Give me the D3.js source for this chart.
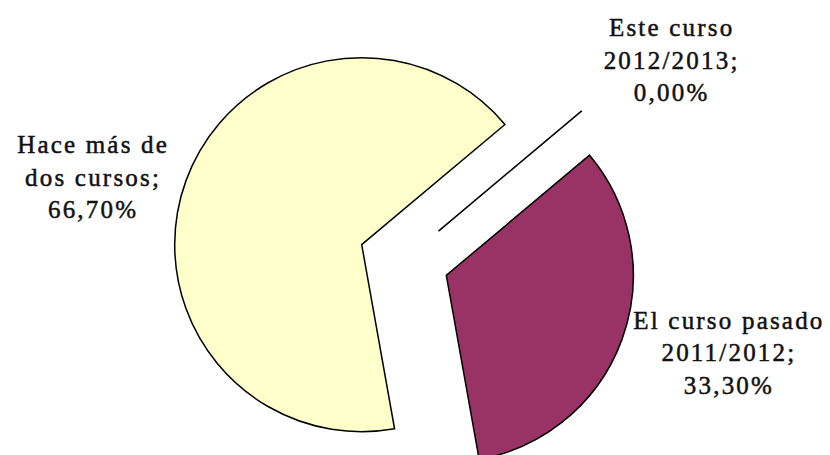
<!DOCTYPE html>
<html>
<head>
<meta charset="utf-8">
<script src="https://cdn.jsdelivr.net/npm/d3@7"></script>
<style>
  body { margin: 0; background: #fff; }
  .chart text { font-family: "Liberation Serif", "Times New Roman", serif; }
</style>
</head>
<body>
<div class="chart"></div>
<script>

// data
const categories = ["Este curso\n2012/2013", "El curso pasado\n2011/2012", "Hace más de\ndos cursos"];
const shares = [0.0, 0.333, 0.667];
const colors = ["#9999FF", "#993366", "#FFFFCC"];

const w = 830, h = 455;
const cx = 404, cy = 260, radius = 187, explode = 45, labelRadius = 335;

// small nudges so labels sit where Excel put them
const labelNudge = {
    "Este curso\n2012/2013": [11, 16],
    "El curso pasado\n2011/2012": [10, -21],
    "Hace más de\ndos cursos": [4, 32]
};

const es = d3.formatLocale({decimal: ",", thousands: ".", grouping: [3], currency: ["", " €"]});
const pct = es.format(".2%");

const data = categories.map((c, i) => ({name: c, value: shares[i], color: colors[i]}));

const svg = d3.select(".chart")
    .append("svg")
    .attr("width", w)
    .attr("height", h);

const g = svg.append("g")
    .attr("transform", `translate(${cx},${cy})`);

const pie = d3.pie()
    .sort(null)
    .value(d => d.value)
    .startAngle(50 * Math.PI / 180)
    .endAngle(410 * Math.PI / 180);

const arcs = pie(data);

const arc = d3.arc().innerRadius(0).outerRadius(radius);
const offsetArc = d3.arc().innerRadius(explode).outerRadius(explode);
const labelArc = d3.arc().innerRadius(labelRadius).outerRadius(labelRadius);

g.selectAll(".slice")
    .data(arcs)
    .enter()
    .append("path")
    .attr("class", "slice")
    .attr("transform", d => `translate(${offsetArc.centroid(d)})`)
    .attr("d", arc)
    .attr("fill", d => d.data.color)
    .attr("stroke", "black")
    .attr("stroke-width", 1.5)
    .attr("stroke-linejoin", "miter");

const lineH = 32.5;

const labels = g.selectAll(".label")
    .data(arcs)
    .enter()
    .append("text")
    .attr("class", "label")
    .attr("text-anchor", "middle")
    .attr("font-size", 25)
    .attr("letter-spacing", 2.2)
    .attr("fill", "#111")
    .attr("stroke", "#111")
    .attr("stroke-width", 0.5)
    .attr("transform", d => {
        const p = labelArc.centroid(d);
        const n = labelNudge[d.data.name];
        return `translate(${p[0] + n[0]},${p[1] + n[1]})`;
    });

labels.each(function(d) {
    const lines = d.data.name.split("\n");
    lines[lines.length - 1] += ";";
    lines.push(pct(d.data.value));
    d3.select(this).selectAll("tspan")
        .data(lines)
        .enter()
        .append("tspan")
        .attr("x", 0)
        .attr("y", (t, i) => (i - (lines.length - 1) / 2) * lineH + 8)
        .text(t => t);
});

</script>
</body>
</html>
